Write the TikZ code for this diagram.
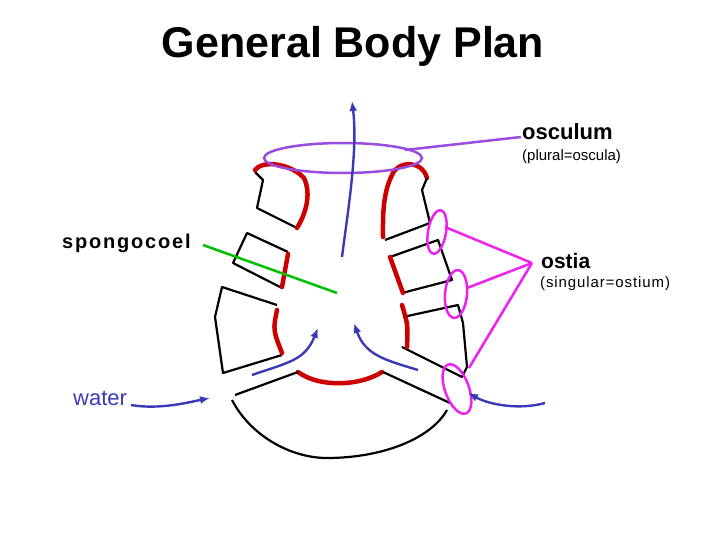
\documentclass[tikz,border=0pt]{standalone}
\usepackage{fontspec}
\setmainfont{Liberation Sans}
\newfontfamily\widefont{Liberation Sans}[LetterSpace=6]
\newfontfamily\widerfont{Liberation Sans}[LetterSpace=9]
\usetikzlibrary{arrows.meta}
\definecolor{flowc}{HTML}{3A3AB8}
\definecolor{oscc}{HTML}{9A4BE0}
\definecolor{magc}{HTML}{EE22EE}
\definecolor{redc}{HTML}{CC0000}
\begin{document}
\begin{tikzpicture}[x=1pt,y=-1pt,
  wall/.style={line width=2.2pt,black,line join=round},
  red/.style={line width=4.5pt,redc,line cap=round},
  flow/.style={line width=2.4pt,flowc,-{Latex[length=10pt,width=8pt]}},
  mag/.style={line width=2.5pt,magc},
  lbl/.style={anchor=west,inner sep=0pt}]
\useasboundingbox (0,0) rectangle (720,540);
\node[font=\bfseries\fontsize{43}{48}\selectfont] (title) at (353,46) {General Body Plan};
% walls
\draw[wall] (255,172)--(263,180)--(257,208)--(297,228);
\draw[red] (255,170)..controls (262,160) and (290,163)..(304,178)..controls (312,195) and (305,215)..(297,228);
\draw[wall] (288,252)--(247,233)--(233,263)--(282,288);
\draw[red] (288,254)--(282,287);
\draw[wall] (277,305)--(222,287)--(215,317)--(223,373)--(282,355);
\draw[red] (277,310)..controls (273,330)..(282,353);
\draw[red] (298,372)..controls (320,388) and (360,386)..(382,372);
\draw[wall] (235,395)--(298,372);
\draw[wall] (383,372)--(450,403);
\draw[wall] (232,400)..controls (250,435) and (290,458)..(327,458)..controls (380,458) and (430,440)..(447,410);
\draw[red] (427,178)..controls (422,160) and (398,160)..(392,175)..controls (382,195) and (383,220)..(383,237);
\draw[wall] (427,178)--(422,190)--(430,223)--(385,240);
\draw[wall] (390,257)--(438,240)--(452,280)--(402,293);
\draw[red] (390,257)--(403,293);
\draw[wall] (403,317)--(458,305)--(463,323)--(467,367)--(462,377)--(402,347);
\draw[red] (402,305)..controls (408,325)..(407,347);
% osculum
\draw[line width=2.5pt,oscc] (343,158) ellipse [x radius=79,y radius=15];
\draw[line width=2.5pt,oscc] (405,150)--(521,137);
\node[lbl,font=\bfseries\fontsize{22}{24}\selectfont] (osc) at (522,132) {osculum};
\node[lbl,font=\fontsize{15}{16}\selectfont] (oscp) at (522,157) {(plural=oscula)};
% ostia
\draw[mag,rotate around={-10:(437,232)}] (437,232) ellipse [x radius=9,y radius=22];
\draw[mag,rotate around={-5:(456,294)}] (456,294) ellipse [x radius=11,y radius=24];
\draw[mag,rotate around={20:(457,389)}] (457,389) ellipse [x radius=12,y radius=26];
\coordinate (op) at (532,263);
\draw[mag] (445,227)--(op) (467,288)--(op) (469,368)--(op);
\node[lbl,font=\bfseries\fontsize{21}{24}\selectfont] (ost) at (541,261) {ostia};
\node[lbl,font=\widefont\fontsize{15}{16}\selectfont] (ostp) at (540,284) {(singular=ostium)};
% spongocoel
\node[lbl,font=\widerfont\bfseries\fontsize{20}{22}\selectfont] (spc) at (62,243) {spongocoel};
\draw[line width=2.5pt,green!75!black] (203,245)--(337,293);
% flows
\draw[flow] (342,257)..controls (348,210) and (358,150)..(352,101);
\draw[flow] (252,375)..controls (290,362) and (305,360)..(318,328);
\draw[flow] (418,370)..controls (385,360) and (365,355)..(354,323);
\node[lbl,font=\fontsize{22}{24}\selectfont,text=flowc] (wat) at (73,398) {water};
\draw[flow] (131,405)..controls (160,410) and (190,402)..(210,398);
\draw[flow] (545,403)..controls (520,410) and (490,405)..(468,393);
\end{tikzpicture}
\end{document}
